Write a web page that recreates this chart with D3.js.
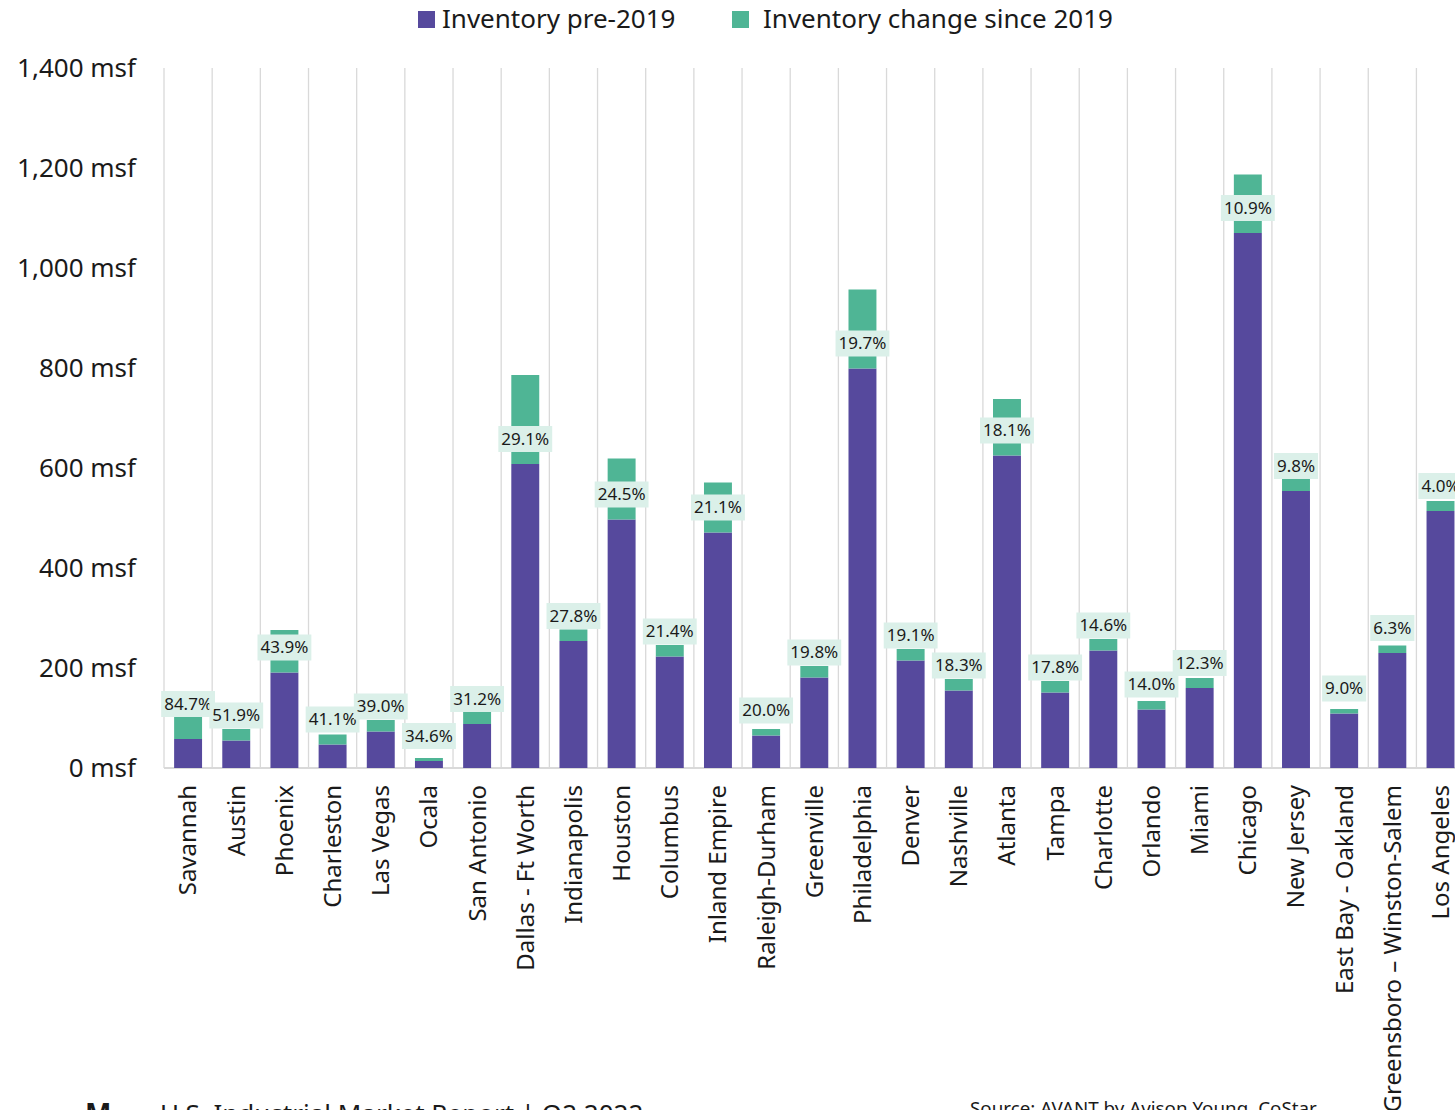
<!DOCTYPE html>
<html>
<head>
<meta charset="utf-8">
<script src="https://cdn.jsdelivr.net/npm/d3@7"></script>
<style>
  body { margin: 0; background: #fff; }
  text { font-family: "Noto Sans", "Open Sans", sans-serif; fill: #1a1a1a; }
</style>
</head>
<body>
<main></main>
<script>
// markets, sorted by growth since 2019
const cities = ["Savannah", "Austin", "Phoenix", "Charleston", "Las Vegas", "Ocala", "San Antonio",
    "Dallas - Ft Worth", "Indianapolis", "Houston", "Columbus", "Inland Empire", "Raleigh-Durham",
    "Greenville", "Philadelphia", "Denver", "Nashville", "Atlanta", "Tampa", "Charlotte", "Orlando",
    "Miami", "Chicago", "New Jersey", "East Bay - Oakland", "Greensboro \u2013 Winston-Salem", "Los Angeles"];

// msf
const preValues = [58, 55, 191, 47, 73, 14, 88, 608, 254, 497, 223, 471, 65, 181, 799, 215, 155, 625,
    151, 235, 117, 160, 1070, 554, 109, 230, 514];
const changeValues = [44, 23, 85, 20, 23, 6, 24, 178, 23, 122, 23, 100, 13, 23, 158, 23, 23, 113,
    23, 23, 17, 20, 117, 24, 9, 15, 20];
const pctLabels = [84.7, 51.9, 43.9, 41.1, 39.0, 34.6, 31.2, 29.1, 27.8, 24.5, 21.4, 21.1, 20.0, 19.8,
    19.7, 19.1, 18.3, 18.1, 17.8, 14.6, 14.0, 12.3, 10.9, 9.8, 9.0, 6.3, 4.0];

const yTicks = [0, 200, 400, 600, 800, 1000, 1200, 1400];
const seriesNames = ["Inventory pre-2019", "Inventory change since 2019"];

const W = 1455, H = 1110;
const plotLeft = 164, plotTop = 68, plotBottom = 768;
const step = 48.17;

const purple = "#56499d";
const teal = "#4fb595";
const labelBg = "#dbf0e9";
const gridColor = "#d9d9d9";

const svg = d3.select("main").append("svg").attr("width", W).attr("height", H);

const x = d3.scaleBand()
    .domain(cities)
    .range([plotLeft, plotLeft + step * cities.length])
    .paddingInner(0.42)
    .paddingOuter(0.21);

const y = d3.scaleLinear().domain([0, 1400]).range([plotBottom, plotTop]);

// vertical separators between categories
const grid = svg.append("g").attr("stroke", gridColor).attr("stroke-width", 1.3);
grid.selectAll("line")
    .data(d3.range(cities.length + 1))
    .join("line")
    .attr("x1", i => x.step() * i + plotLeft)
    .attr("x2", i => x.step() * i + plotLeft)
    .attr("y1", y(1400))
    .attr("y2", y(0));
grid.append("line")
    .attr("x1", plotLeft).attr("x2", W)
    .attr("y1", y(0)).attr("y2", y(0))
    .attr("stroke-width", 2);

// y axis labels
const fmt = d3.format(",");
svg.append("g")
    .selectAll("text")
    .data(yTicks)
    .join("text")
    .attr("x", 136)
    .attr("y", d => y(d))
    .attr("dy", "0.35em")
    .attr("text-anchor", "end")
    .attr("font-size", 26)
    .text(d => fmt(d) + " msf");

// stacked bars
const rows = cities.map((c, i) => ({ city: c, pre: preValues[i], change: changeValues[i], pct: pctLabels[i] }));

const bars = svg.append("g");
bars.selectAll("rect.pre")
    .data(rows)
    .join("rect")
    .attr("class", "pre")
    .attr("x", d => x(d.city))
    .attr("width", x.bandwidth())
    .attr("y", d => y(d.pre))
    .attr("height", d => y(0) - y(d.pre))
    .attr("fill", purple);

bars.selectAll("rect.chg")
    .data(rows)
    .join("rect")
    .attr("class", "chg")
    .attr("x", d => x(d.city))
    .attr("width", x.bandwidth())
    .attr("y", d => y(d.pre + d.change))
    .attr("height", d => y(d.pre) - y(d.pre + d.change))
    .attr("fill", teal);

// percent labels sitting above the pre-2019 part
rows.forEach(d => { d.ly = y(d.pre) - 25; });
// nudge a label up when it would touch its neighbour's box
rows.forEach((d, i) => {
    const n = rows[i + 1];
    if (n && Math.abs(d.ly - n.ly) < 26 && d.ly <= n.ly) d.ly -= 10;
});

const lab = svg.append("g").selectAll("g")
    .data(rows)
    .join("g")
    .attr("transform", d => `translate(${x(d.city) + x.bandwidth() / 2},${d.ly})`);

lab.append("rect").attr("fill", labelBg);
lab.append("text")
    .attr("text-anchor", "middle")
    .attr("dy", "0.35em")
    .attr("font-size", 17)
    .text(d => d.pct.toFixed(1) + "%");
lab.each(function () {
    const g = d3.select(this);
    const w = g.select("text").node().getComputedTextLength() + 6;
    g.select("rect").attr("x", -w / 2).attr("y", -13).attr("width", w).attr("height", 26);
});

// category labels, rotated
svg.append("g")
    .selectAll("text")
    .data(cities)
    .join("text")
    .attr("transform", d => `translate(${x(d) + x.bandwidth() / 2},785) rotate(-90)`)
    .attr("text-anchor", "end")
    .attr("dy", "0.35em")
    .attr("font-size", 24)
    .text(d => d);

// legend
const legend = svg.append("g");
const legendPos = [418, 732];
seriesNames.forEach((name, i) => {
    legend.append("rect")
        .attr("x", legendPos[i]).attr("y", 11)
        .attr("width", 17).attr("height", 17)
        .attr("fill", i === 0 ? purple : teal);
    legend.append("text")
        .attr("x", legendPos[i] + (i === 0 ? 24 : 31))
        .attr("y", 19)
        .attr("dy", "0.35em")
        .attr("font-size", 26)
        .text(name);
});

// footer, cut off by the page edge
svg.append("text").attr("x", 85).attr("y", 1124).attr("font-size", 28).attr("font-weight", "bold").text("M");
svg.append("text").attr("x", 160).attr("y", 1123).attr("font-size", 26).text("U.S. Industrial Market Report | Q2 2022");
svg.append("text").attr("x", 970).attr("y", 1115).attr("font-size", 18.8).text("Source: AVANT by Avison Young, CoStar");
</script>
</body>
</html>
